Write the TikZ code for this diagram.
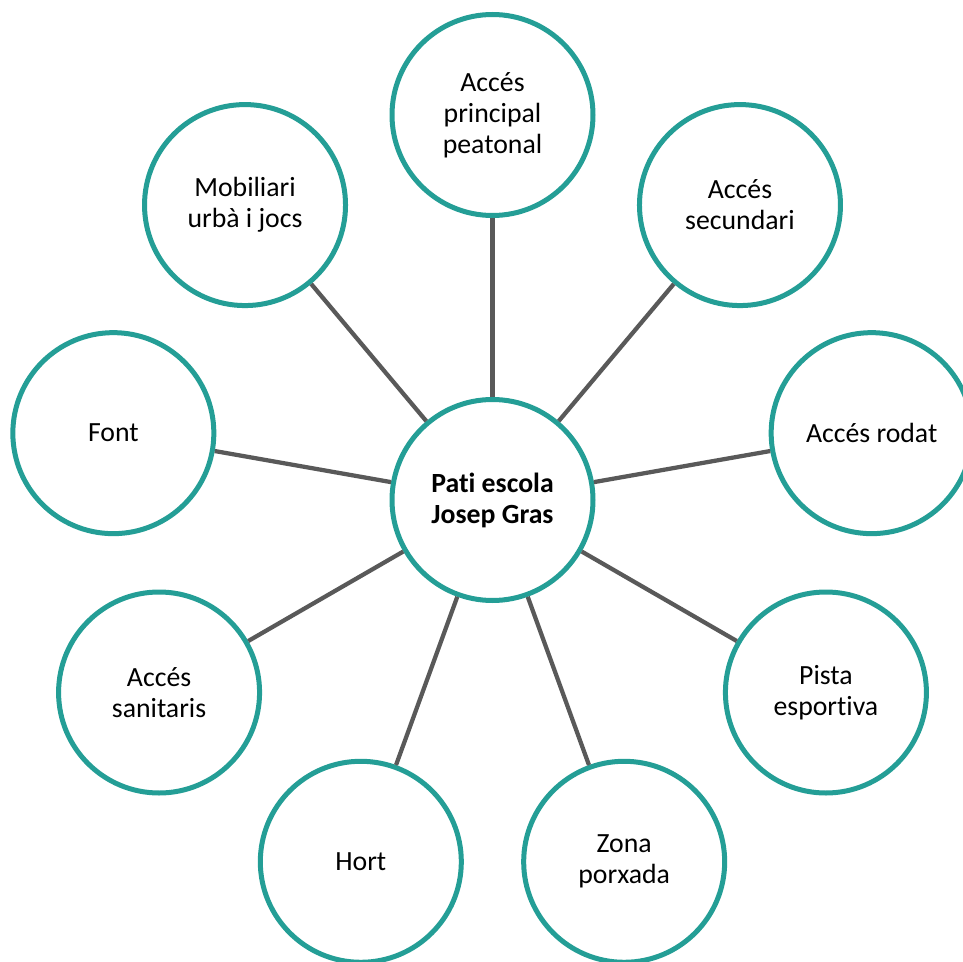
\documentclass[tikz,border=0pt]{standalone}
\usepackage{fontspec}
\setmainfont[Ligatures={NoCommon}]{Carlito}
\definecolor{ringteal}{RGB}{36,158,150}
\definecolor{spokegray}{RGB}{89,89,89}
\tikzset{
    place/.style={circle, draw=ringteal, line width=0.1cm, fill=white,
        minimum size=4.02cm, inner sep=0pt, align=center,
        font=\fontsize{15.8}{17.6}\selectfont},
    spoke/.style={draw=spokegray, line width=0.085cm}
}
\begin{document}
\begin{tikzpicture}
        \useasboundingbox (-9.85,-9.22) rectangle (9.41,10.0);

        \node[place, font=\fontsize{15.8}{17.6}\selectfont\bfseries] (pati) at (0,0) {Pati escola\\Josep Gras};

        \node[place] (principal) at (90:7.7) {Accés\\principal\\peatonal};
        \node[place] (secundari) at (50:7.7) {Accés\\secundari};
        \node[place] (rodat) at (10:7.7) {Accés rodat};
        \node[place] (pista) at (-30:7.7) {Pista\\esportiva};
        \node[place] (porxada) at (-70:7.7) {Zona\\porxada};
        \node[place] (hort) at (-110:7.7) {Hort};
        \node[place] (sanitaris) at (-150:7.7) {Accés\\sanitaris};
        \node[place] (font) at (170:7.7) {Font};
        \node[place] (mobiliari) at (130:7.7) {Mobiliari\\urbà i jocs};

        \draw[spoke] (pati) -- (principal);
        \draw[spoke] (pati) -- (secundari);
        \draw[spoke] (pati) -- (rodat);
        \draw[spoke] (pati) -- (pista);
        \draw[spoke] (pati) -- (porxada);
        \draw[spoke] (pati) -- (hort);
        \draw[spoke] (pati) -- (sanitaris);
        \draw[spoke] (pati) -- (font);
        \draw[spoke] (pati) -- (mobiliari);
    \end{tikzpicture}
\end{document}
